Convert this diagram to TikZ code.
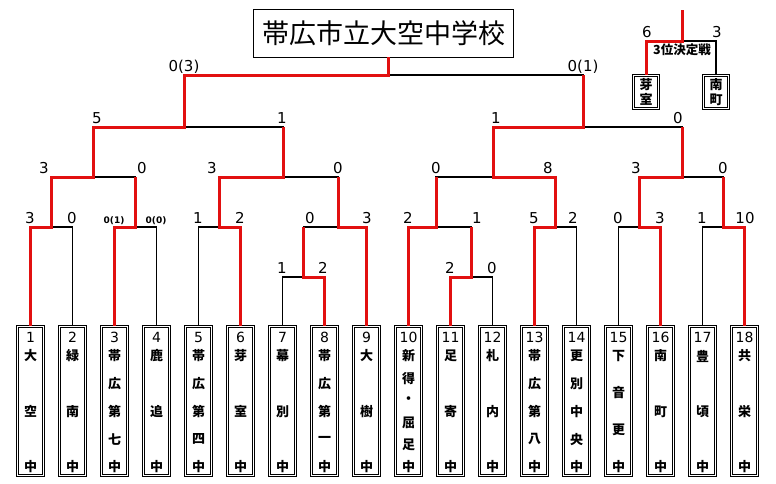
\documentclass[tikz,border=0pt]{standalone}
\usepackage{fontspec}
\setmainfont{DejaVu Sans}
\newfontfamily\jpfont{Noto Sans CJK JP}
\usetikzlibrary{positioning}
\definecolor{winred}{RGB}{226,16,16}
\tikzset{
    win/.style={draw=winred, line width=3pt}, % path of the team that goes on
    lose/.style={draw=black, line width=1.8pt},
    team/.style={draw, double, double distance=1.6pt, line width=0.7pt, minimum width=26pt, minimum height=149pt, inner sep=0pt},
    smallteam/.style={team, minimum width=25pt, minimum height=33pt, align=center, font=\jpfont\bfseries\fontsize{13}{15}\selectfont},
    teamnum/.style={inner sep=0pt, font=\fontsize{14}{14}\selectfont},
    teamchar/.style={inner sep=0pt, font=\jpfont\bfseries\fontsize{13}{13}\selectfont},
    score/.style={anchor=base, inner sep=0pt, font=\fontsize{15}{15}\selectfont},
    smallscore/.style={score, font=\bfseries\fontsize{9}{9}\selectfont},
    titlebox/.style={draw, double, double distance=1.8pt, line width=0.8pt, minimum width=257.6pt, minimum height=45.6pt, inner sep=0pt, font=\jpfont\fontsize{27}{27}\selectfont},
}
% team box: name, x, number, count of characters, characters
\newcommand{\teambox}[5]{%
    \node[team] (#1) at (#2,401) {};
    \node[teamnum] (#1_num) at (#2,337.5) {#3};
    \foreach \c [count=\k] in {#5} {
        \node[teamchar] (#1_\k) at (#2,{356+(\k-1)*111/(#4-1)}) {\c};
    }%
}

\begin{document}
\begin{tikzpicture}[x=1pt,y=-1pt]
    \useasboundingbox (0,0) rectangle (776,483);

    \node[titlebox] (title) at (383.5,33.5) {帯広市立大空中学校};

    \teambox{t_1}{30.5}{1}{3}{大,空,中}
    \teambox{t_2}{72.5}{2}{3}{緑,南,中}
    \teambox{t_3}{114.5}{3}{5}{帯,広,第,七,中}
    \teambox{t_4}{156.5}{4}{3}{鹿,追,中}
    \teambox{t_5}{198.5}{5}{5}{帯,広,第,四,中}
    \teambox{t_6}{240.5}{6}{3}{芽,室,中}
    \teambox{t_7}{282.5}{7}{3}{幕,別,中}
    \teambox{t_8}{324.5}{8}{5}{帯,広,第,一,中}
    \teambox{t_9}{366.5}{9}{3}{大,樹,中}
    \teambox{t_10}{408.5}{10}{6}{新,得,・,屈,足,中}
    \teambox{t_11}{450.5}{11}{3}{足,寄,中}
    \teambox{t_12}{492.5}{12}{3}{札,内,中}
    \teambox{t_13}{534.5}{13}{5}{帯,広,第,八,中}
    \teambox{t_14}{576.5}{14}{5}{更,別,中,央,中}
    \teambox{t_15}{618.5}{15}{4}{下,音,更,中}
    \teambox{t_16}{660.5}{16}{3}{南,町,中}
    \teambox{t_17}{702.5}{17}{3}{豊,頃,中}
    \teambox{t_18}{744.5}{18}{3}{共,栄,中}

    \coordinate (j_1_2) at (51.5,227);
    \coordinate (j_3_4) at (135.5,227);
    \coordinate (j_5_6) at (219.5,227);
    \coordinate (j_7_8) at (303.5,277);
    \coordinate (j_7_9) at (338,227);
    \coordinate (j_1_4) at (93,177);
    \coordinate (j_5_9) at (283,177);
    \coordinate (j_1_9) at (184,127);
    \coordinate (j_11_12) at (471.5,277);
    \coordinate (j_10_12) at (436,227);
    \coordinate (j_13_14) at (555.5,227);
    \coordinate (j_15_16) at (639.5,227);
    \coordinate (j_17_18) at (723.5,227);
    \coordinate (j_10_14) at (493,177);
    \coordinate (j_15_18) at (682,177);
    \coordinate (j_10_18) at (583,127);
    \coordinate (j_final) at (388,75);

    % third place
    \node[smallteam] (m3_a) at (646,92) {芽\\室};
    \node[smallteam] (m3_b) at (716,92) {南\\町};
    \coordinate (j_3rd) at (682,41);
    \coordinate (j_3rd_top) at (682,10);
    \node (c_3rd) [below=3pt of j_3rd, inner sep=0pt, font=\jpfont\bfseries\fontsize{12.5}{12.5}\selectfont] {3位決定戦};

    \draw[lose]
      (t_2.north)  |- (j_1_2)
      (t_4.north)  |- (j_3_4)
      (t_5.north)  |- (j_5_6)
      (t_7.north)  |- (j_7_8)
      (j_7_8)      |- (j_7_9)
      (j_3_4)      |- (j_1_4)
      (j_7_9)      |- (j_5_9)
      (j_5_9)      |- (j_1_9)
      (t_12.north) |- (j_11_12)
      (j_11_12)    |- (j_10_12)
      (t_14.north) |- (j_13_14)
      (t_15.north) |- (j_15_16)
      (t_17.north) |- (j_17_18)
      (j_10_12)    |- (j_10_14)
      (j_17_18)    |- (j_15_18)
      (j_15_18)    |- (j_10_18)
      (j_10_18)    |- (j_final)
      (m3_b.north) |- (j_3rd)
      ;
    \draw[win]
      (t_1.north)  |- (j_1_2) |- (j_1_4) |- (j_1_9) |- (j_final) -- (j_final |- title.south)
      (t_3.north)  |- (j_3_4) -- (j_3_4 |- j_1_4)
      (t_6.north)  |- (j_5_6) |- (j_5_9) -- (j_5_9 |- j_1_9)
      (t_8.north)  |- (j_7_8) -- (j_7_8 |- j_7_9)
      (t_9.north)  |- (j_7_9) -- (j_7_9 |- j_5_9)
      (t_10.north) |- (j_10_12) -- (j_10_12 |- j_10_14)
      (t_11.north) |- (j_11_12) -- (j_11_12 |- j_10_12)
      (t_13.north) |- (j_13_14) |- (j_10_14) |- (j_10_18) -- (j_10_18 |- j_final)
      (t_16.north) |- (j_15_16) |- (j_15_18) -- (j_15_18 |- j_10_18)
      (t_18.north) |- (j_17_18) -- (j_17_18 |- j_15_18)
      (m3_a.north) |- (j_3rd) -- (j_3rd_top)
      ;

    % scores
    \node[score] (sc_1) at (30,223.5) {3};
    \node[score] (sc_2) at (72,223.5) {0};
    \node[smallscore] (sc_3) at (114,223.5) {0(1)};
    \node[smallscore] (sc_4) at (156,223.5) {0(0)};
    \node[score] (sc_5) at (198,223.5) {1};
    \node[score] (sc_6) at (240,223.5) {2};
    \node[score] (sc_7) at (282,273.5) {1};
    \node[score] (sc_8) at (323,273.5) {2};
    \node[score] (sc_9) at (310,223.5) {0};
    \node[score] (sc_10) at (367,223.5) {3};
    \node[score] (sc_11) at (408,223.5) {2};
    \node[score] (sc_12) at (477,223.5) {1};
    \node[score] (sc_13) at (450,273.5) {2};
    \node[score] (sc_14) at (492,273.5) {0};
    \node[score] (sc_15) at (534,223.5) {5};
    \node[score] (sc_16) at (573,223.5) {2};
    \node[score] (sc_17) at (618,223.5) {0};
    \node[score] (sc_18) at (660,223.5) {3};
    \node[score] (sc_19) at (702,223.5) {1};
    \node[score] (sc_20) at (745,223.5) {10};
    \node[score] (sc_21) at (44,173.5) {3};
    \node[score] (sc_22) at (142,173.5) {0};
    \node[score] (sc_23) at (212,173.5) {3};
    \node[score] (sc_24) at (338,173.5) {0};
    \node[score] (sc_25) at (436,173.5) {0};
    \node[score] (sc_26) at (548,173.5) {8};
    \node[score] (sc_27) at (636,173.5) {3};
    \node[score] (sc_28) at (723,173.5) {0};
    \node[score] (sc_29) at (97,123.5) {5};
    \node[score] (sc_30) at (282,123.5) {1};
    \node[score] (sc_31) at (496,123.5) {1};
    \node[score] (sc_32) at (678,123.5) {0};
    \node[score] (sc_33) at (184,71.5) {0(3)};
    \node[score] (sc_34) at (583,71.5) {0(1)};
    \node[score] (sc_35) at (647,37.5) {6};
    \node[score] (sc_36) at (717,37.5) {3};
\end{tikzpicture}
\end{document}
